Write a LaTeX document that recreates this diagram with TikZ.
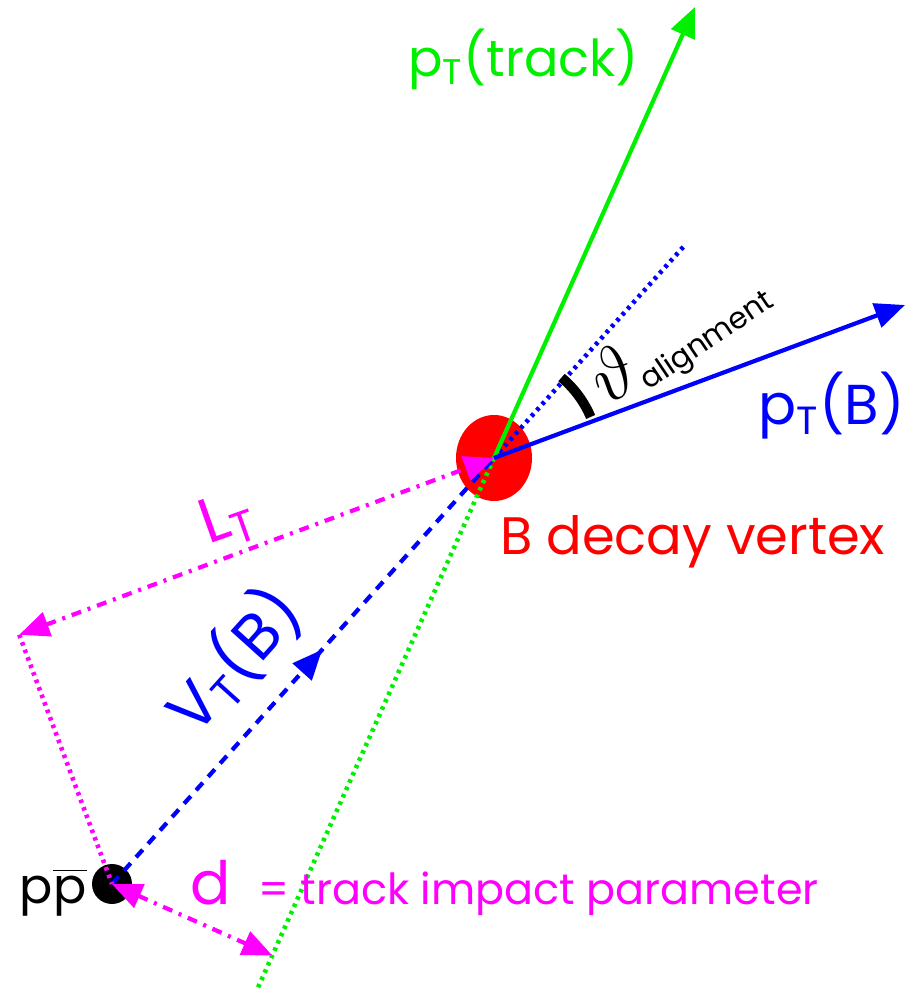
\documentclass[tikz,border=0pt]{standalone}
\usepackage{fontspec}
\setmainfont{Poppins}
\usepackage{tikz}
\usetikzlibrary{arrows.meta,calc,shapes.geometric}
\definecolor{vxgreen}{RGB}{0,240,0}
\definecolor{vxblue}{RGB}{0,0,255}
\definecolor{vxmag}{RGB}{255,0,255}
\definecolor{vxred}{RGB}{255,0,0}
\tikzset{
  vxline/.style={line width=1.2pt},
  vxtip/.style={-{Triangle[length=3mm,width=2.5mm]}},
  vxboth/.style={{Triangle[length=3mm,width=2.5mm]}-{Triangle[length=3mm,width=2.5mm]}},
  vxdash/.style={line width=1.2pt, dash pattern=on 1mm off 0.8mm},
  vxdot/.style={line width=1.3pt, dash pattern=on 0.35mm off 0.45mm},
  vxdashdot/.style={line width=1.2pt, dash pattern=on 1mm off 0.7mm on 0.3mm off 0.7mm},
  vxlabel/.style={inner sep=0pt, outer sep=0pt}
}
\begin{document}
\begin{tikzpicture}
  \useasboundingbox (0,0) rectangle (9.07,9.96);
  \node[ellipse, fill=vxred, minimum width=0.76cm, minimum height=0.86cm, inner sep=0pt] (vtx) at (4.94,5.38) {};
  \node[circle, fill=black, minimum size=0.4cm, inner sep=0pt] (ppbar) at (1.12,1.12) {};
  \coordinate (trk) at (6.95,9.89);
  \coordinate (ptb) at (9.05,6.91);
  \coordinate (trkback) at ($(trk)!2.18!(vtx.center)$);
  \coordinate (dirend) at ($(ppbar.center)!1.5!(vtx.center)$);
  \coordinate (ltfoot) at ($(vtx.center)!(ppbar.center)!(ptb)$);
  \coordinate (dfoot) at ($(vtx.center)!(ppbar.center)!(trk)$);
  \coordinate (vtmida) at ($(ppbar.center)!0.5!(vtx.center)$);
  \coordinate (vtmidb) at ($(ppbar.center)!0.55!(vtx.center)$);
  \draw[vxdot, vxgreen] (vtx.center) -- (trkback);
  \draw[vxdot, vxblue] (vtx.center) -- (dirend);
  \draw[vxline, vxtip, vxgreen] (vtx.center) -- (trk);
  \draw[vxline, vxtip, vxblue] (vtx.center) -- (ptb);
  \draw[vxdash, vxblue] (ppbar.center) -- (vtx.center);
  \draw[vxline, vxtip, vxblue] (vtmida) -- (vtmidb);
  \draw[vxdashdot, vxboth, vxmag] (ltfoot) -- (vtx.center);
  \draw[vxdot, vxmag] (ltfoot) -- (ppbar.center);
  \draw[vxdashdot, vxboth, vxmag] (ppbar.center) -- (dfoot);
  \draw[line width=2.8pt] (vtx.center) ++(23:1.05) arc (23:50:1.05);
  \node[vxlabel, text=vxgreen, anchor=base west, font=\fontsize{14.5}{17}\selectfont] (ptrklbl) at (4.08,9.19) {p\textsubscript{T}(track)};
  \node[vxlabel, text=vxblue, anchor=base west, font=\fontsize{16}{19}\selectfont] (ptblbl) at (7.58,5.71) {p\textsubscript{T}(B)};
  \node[vxlabel, text=vxred, anchor=base west, font=\fontsize{15}{18}\selectfont] (vtxlbl) at (5.00,4.41) {B decay vertex};
  \node[vxlabel, text=vxmag, rotate=19.5, font=\fontsize{18}{21}\selectfont] (ltlbl) at (2.28,4.76) {L\textsubscript{T}};
  \node[vxlabel, text=vxblue, rotate=48, font=\fontsize{18}{21}\selectfont] (vtlbl) at (2.33,3.36) {V\textsubscript{T}(B)};
  \node[vxlabel, rotate=34] (alignlbl) at (6.80,6.58) {{\fontsize{20}{22}\selectfont$\vartheta$}\raisebox{-0.5ex}{\fontsize{8.5}{10}\selectfont alignment}};
  \node[vxlabel, anchor=base west, font=\fontsize{14}{17}\selectfont] (pplbl) at (0.20,0.93) {p$\overline{\mbox{p}}$};
  \node[vxlabel, text=vxmag, anchor=base west] (dlbl) at (1.90,0.91) {{\fontsize{17}{20}\selectfont d}\hspace{2.8mm}{\fontsize{12.2}{14}\selectfont = track impact parameter}};
\end{tikzpicture}
\end{document}
